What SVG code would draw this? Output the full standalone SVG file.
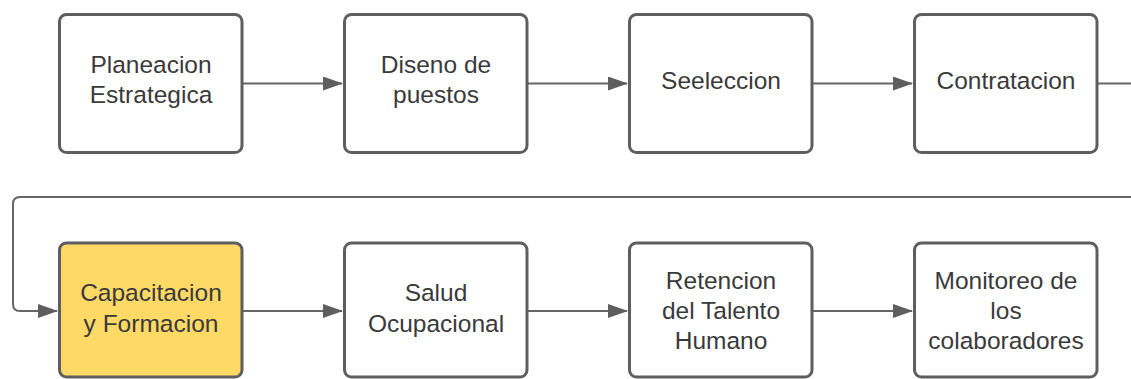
<svg xmlns="http://www.w3.org/2000/svg" width="1131" height="379" viewBox="0 0 1131 379">
<style>
.box{fill:#ffffff;stroke:#5e5e5e;stroke-width:3}
.hl{fill:#ffd966}
.t{font-family:"Liberation Sans",Arial,sans-serif;font-size:24.5px;fill:#3a3a3a;text-anchor:middle}
.c{fill:none;stroke:#666666;stroke-width:2}
</style>
<defs>
<marker id="arr" viewBox="0 0 20 14" refX="19" refY="7" markerWidth="20" markerHeight="14" markerUnits="userSpaceOnUse" orient="auto">
<path d="M0,0 L20,7 L0,14 Z" fill="#5e5e5e"/>
</marker>
</defs>
<rect width="1131" height="379" fill="#ffffff"/>
<g id="connectors">
<path class="c" d="M242,83.5 H342" marker-end="url(#arr)"/>
<path class="c" d="M527,83.5 H627" marker-end="url(#arr)"/>
<path class="c" d="M812,83.5 H912" marker-end="url(#arr)"/>
<path class="c" d="M1098,83.5 H1150 V197 H20 Q13,197 13,204 V304 Q13,311 20,311 H57" marker-end="url(#arr)"/>
<path class="c" d="M242,311 H342" marker-end="url(#arr)"/>
<path class="c" d="M527,311 H627" marker-end="url(#arr)"/>
<path class="c" d="M812,311 H912" marker-end="url(#arr)"/>
</g>
<g id="n1"><rect class="box" x="59.5" y="14.5" width="182.5" height="138" rx="7"/><text class="t" x="151" y="73">Planeacion</text><text class="t" x="151" y="103">Estrategica</text></g>
<g id="n2"><rect class="box" x="344.5" y="14.5" width="182.5" height="138" rx="7"/><text class="t" x="436" y="72.5">Diseno de</text><text class="t" x="436" y="103">puestos</text></g>
<g id="n3"><rect class="box" x="629.5" y="14.5" width="182.5" height="138" rx="7"/><text class="t" x="721" y="89">Seeleccion</text></g>
<g id="n4"><rect class="box" x="914.5" y="14.5" width="182.5" height="138" rx="7"/><text class="t" x="1006" y="89">Contratacion</text></g>
<g id="n5"><rect class="box hl" x="59.5" y="243" width="182.5" height="134" rx="7"/><text class="t" x="151" y="300.5">Capacitacion</text><text class="t" x="151" y="331.5">y Formacion</text></g>
<g id="n6"><rect class="box" x="344.5" y="243" width="182.5" height="134" rx="7"/><text class="t" x="436" y="301">Salud</text><text class="t" x="436" y="332">Ocupacional</text></g>
<g id="n7"><rect class="box" x="629.5" y="243" width="182.5" height="134" rx="7"/><text class="t" x="721" y="288.5">Retencion</text><text class="t" x="721" y="318.5">del Talento</text><text class="t" x="721" y="348.5">Humano</text></g>
<g id="n8"><rect class="box" x="914.5" y="243" width="182.5" height="134" rx="7"/><text class="t" x="1006" y="288.5">Monitoreo de</text><text class="t" x="1006" y="318.5">los</text><text class="t" x="1006" y="348.5">colaboradores</text></g>
</svg>
